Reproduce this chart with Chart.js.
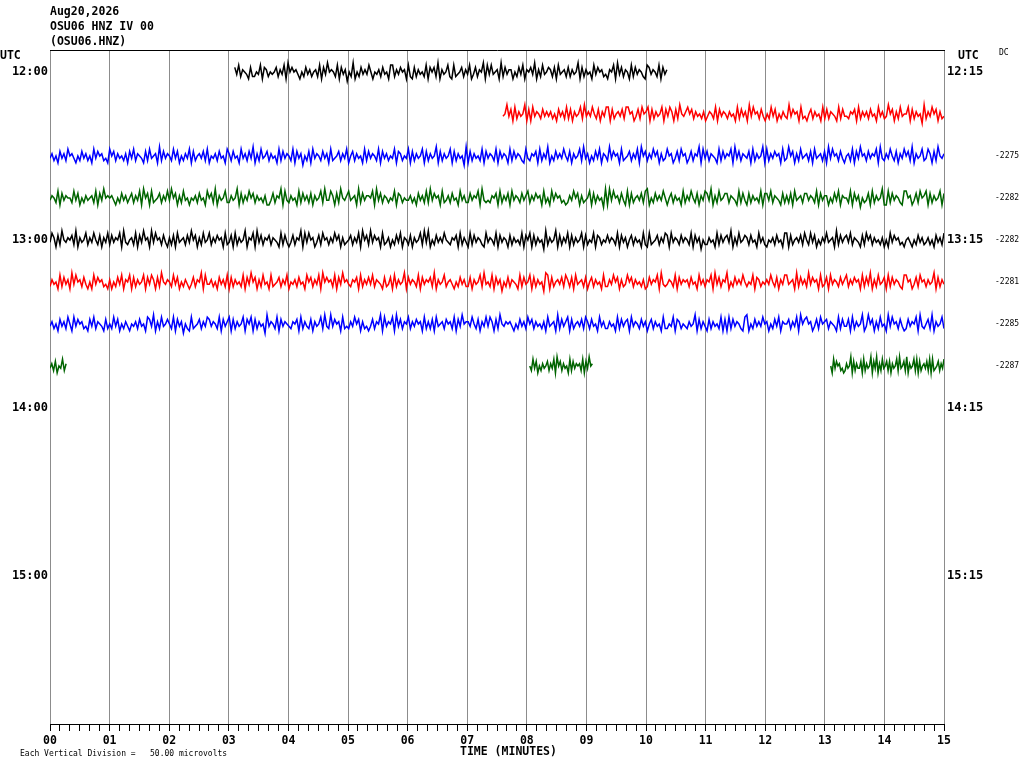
<!DOCTYPE html>
<html>
<head>
<meta charset="utf-8">
<title>OSU06 HNZ IV 00</title>
<script src="https://cdn.jsdelivr.net/npm/chart.js@4/dist/chart.umd.min.js"></script>
<style>
  html, body { margin: 0; padding: 0; background: #fff; }
  #wrap { width: 1024px; height: 768px; }
</style>
</head>
<body>
<div id="wrap"><canvas id="heli" width="1024" height="768"></canvas></div>
<script>
// header text
const headerLines = ["Aug20,2026", "OSU06 HNZ IV 00", "(OSU06.HNZ)"];

// axis labels
const minuteLabels = ["00", "01", "02", "03", "04", "05", "06", "07", "08", "09", "10", "11", "12", "13", "14", "15"];
const hourRows = [0, 4, 8, 12];
const leftHourLabels = ["12:00", "13:00", "14:00", "15:00"];
const rightHourLabels = ["12:15", "13:15", "14:15", "15:15"];
const dcRows = [2, 3, 4, 5, 6, 7];
const dcLabels = ["-2275", "-2282", "-2282", "-2281", "-2285", "-2287"];

// traces: row index (15 min per row), start/end minute, samples as digits (5 = baseline)
const traceRows = [0, 1, 2, 3, 4, 5, 6, 7, 7, 7];
const traceStart = [3.1, 7.6, 0, 0, 0, 0, 0, 0, 8.05, 13.1];
const traceEnd = [10.35, 15, 15, 15, 15, 15, 15, 0.27, 9.1, 15];
const traceDigits = [
  "7483654273 3548276354 5736482957 5642537463 5638274956 5382746153 9253746485 2546374528 8364756283 2736453827 5739264583 " +
  "2834573648 2473659284 8456293746 6253748265 7492638457 6372845637 3645927364 5284756342 6582947365 2837465328 7465382746",
  "459 4728364592 7284653746 4635274638 3726458394 6485372648 8273564738 8562473856 8273645827 4862739546 8573645362 4653827465 " +
  "3645283746 2948563742 5384725364 3947562834 2573645283 7365428374 4365728364 6374528463 4957263845 5827364519 3648572634",
  "4635274638 5642537463 5284756342 8573645362 7483654273 8456293746 5384725364 8273564738 2546374528 6374528463 7492638457 " +
  "3645283746 5382746153 7284653746 2834573648 2573645283 7465382746 3548276354 8273645827 3645927364 5827364519 2736453827 " +
  "4653827465 2837465328 4365728364 9253746485 3726458394 6253748265 3947562834 5736482957 3648572634 8562473856 2473659284 " +
  "7365428374 6582947365 4728364592 8364756283 4957263845 6372845637 2948563742 5638274956 3746582943 6485372648 5739264583 4862739546",
  "4653827465 5384725364 5638274956 5642537463 5736482957 2834573648 4957263845 2546374528 5739264583 3645927364 8573645362 " +
  "2473659284 3645283746 3726458394 4862739546 8456293746 6582947365 3548276354 4635274638 3947562834 6374528463 3746582943 " +
  "4365728364 7284653746 8364756283 5284756342 3648572634 5827364519 2948563742 8273564738 9253746485 2573645283 6485372648 " +
  "7492638457 7365428374 2736453827 7483654273 6372845637 7465382746 6253748265 5382746153 4728364592 2837465328 8562473856 8273645827",
  "4862739546 5739264583 6485372648 3746582943 5638274956 2948563742 6372845637 4957263845 8364756283 4728364592 6582947365 " +
  "7365428374 2473659284 8562473856 3648572634 5736482957 3947562834 6253748265 3726458394 9253746485 4365728364 2837465328 " +
  "4653827465 2736453827 5827364519 3645927364 8273645827 3548276354 7465382746 2573645283 2834573648 7284653746 5382746153 " +
  "3645283746 7492638457 6374528463 2546374528 8273564738 5384725364 8456293746 7483654273 8573645362 5284756342 5642537463 4635274638",
  "3645283746 2948563742 5284756342 6253748265 8273645827 4862739546 5384725364 2473659284 4635274638 2736453827 4957263845 " +
  "2834573648 2546374528 5736482957 5638274956 4365728364 7483654273 4728364592 7465382746 5739264583 5642537463 3726458394 " +
  "5382746153 7365428374 5827364519 8273564738 6372845637 2573645283 3648572634 8573645362 3746582943 4653827465 6374528463 " +
  "6582947365 9253746485 3548276354 6485372648 8456293746 3947562834 7284653746 8364756283 7492638457 2837465328 8562473856 3645927364",
  "4635274638 5284756342 7483654273 5384725364 2546374528 7492638457 5382746153 2834573648 7465382746 8273645827 5827364519 " +
  "4653827465 4365728364 3726458394 3947562834 3648572634 2473659284 6582947365 8364756283 6372845637 5638274956 6485372648 " +
  "4862739546 5642537463 8573645362 8456293746 8273564738 6374528463 3645283746 7284653746 2573645283 3548276354 3645927364 " +
  "2736453827 2837465328 9253746485 6253748265 5736482957 8562473856 7365428374 4728364592 4957263845 2948563742 3746582943 5739264583",
  "4637254836",
  "5384725364 5736482957 3645283746 5638274956",
  "5284756342 3645927364 4728364592 7492638457 3726458394 5739264583 8273564738 2834573648"
];
const traceColors = ["#000000", "#ff0000", "#0000ff", "#006400", "#000000", "#ff0000", "#0000ff", "#006400", "#006400", "#006400"];

const ROW_PX = 42;
const DIGIT_STEP = 2.3 / ROW_PX;

const datasets = traceDigits.map((raw, i) => {
  const str = raw.replace(/\s/g, "");
  const n = str.length;
  const pts = [];
  for (let j = 0; j < n; j++) {
    const t = traceStart[i] + (traceEnd[i] - traceStart[i]) * j / (n - 1);
    pts.push({ x: t, y: traceRows[i] + (5 - Number(str[j])) * DIGIT_STEP });
  }
  return {
    data: pts,
    borderColor: traceColors[i],
    borderWidth: 1.5,
    pointRadius: 0,
    tension: 0,
    fill: false,
    xAxisID: "x",
    yAxisID: "y"
  };
});

const MONO = "'DejaVu Sans Mono', 'Liberation Mono', monospace";
const yMin = -22 / ROW_PX;
const yMax = 652 / ROW_PX;

const textPlugin = {
  id: "heliText",
  afterDraw(chart) {
    const c = chart.ctx;
    c.save();
    c.fillStyle = "#000";
    c.textBaseline = "middle";
    c.textAlign = "left";
    c.font = "bold 11.5px " + MONO;
    headerLines.forEach((t, i) => c.fillText(t, 50, 12 + i * 15));
    c.fillText("UTC", 0, 56);
    c.fillText("UTC", 958, 56);
    c.fillText("TIME (MINUTES)", 460, 752);
    c.font = "8px " + MONO;
    c.fillText("DC", 999, 53);
    c.fillText("Each Vertical Division =   50.00 microvolts", 20, 754);
    c.restore();
  }
};

new Chart(document.getElementById("heli"), {
  type: "line",
  data: { datasets: datasets },
  plugins: [textPlugin],
  options: {
    responsive: false,
    animation: false,
    devicePixelRatio: 1,
    parsing: false,
    layout: { padding: { top: 50, left: 0, right: 0, bottom: 0 } },
    plugins: {
      legend: { display: false },
      tooltip: { enabled: false },
      title: { display: false }
    },
    scales: {
      x: {
        type: "linear",
        position: "bottom",
        min: 0,
        max: 15,
        afterBuildTicks: s => {
          s.ticks = [];
          for (let k = 0; k <= 90; k++) s.ticks.push({ value: k / 6 });
        },
        afterFit: s => { s.height = 44; },
        grid: {
          color: c => (c.index % 6 === 0 ? "#8c8c8c" : "rgba(0,0,0,0)"),
          tickColor: "#000",
          tickLength: 7,
          lineWidth: 1
        },
        border: { color: "#000" },
        ticks: {
          autoSkip: false,
          maxRotation: 0,
          padding: 3,
          color: "#000",
          font: { family: MONO, size: 11.5, weight: "bold" },
          callback: (v, i) => (i % 6 === 0 ? minuteLabels[i / 6] : "")
        }
      },
      xTop: {
        type: "linear",
        position: "top",
        min: 0,
        max: 15,
        afterFit: s => { s.height = 0; },
        grid: { drawOnChartArea: false, drawTicks: false },
        border: { color: "#000" },
        ticks: { display: false }
      },
      y: {
        type: "linear",
        position: "left",
        reverse: true,
        min: yMin,
        max: yMax,
        afterBuildTicks: s => { s.ticks = hourRows.map(v => ({ value: v })); },
        afterFit: s => { s.width = 50; },
        grid: { display: false, drawTicks: false },
        border: { display: false },
        ticks: {
          padding: 2,
          color: "#000",
          font: { family: MONO, size: 12, weight: "bold" },
          callback: (v, i) => leftHourLabels[i]
        }
      },
      yRight: {
        type: "linear",
        position: "right",
        weight: 1,
        reverse: true,
        min: yMin,
        max: yMax,
        afterBuildTicks: s => { s.ticks = hourRows.map(v => ({ value: v })); },
        afterFit: s => { s.width = 50; },
        grid: { display: false, drawTicks: false },
        border: { display: false },
        ticks: {
          padding: 3,
          color: "#000",
          font: { family: MONO, size: 12, weight: "bold" },
          callback: (v, i) => rightHourLabels[i]
        }
      },
      yDc: {
        type: "linear",
        position: "right",
        weight: 2,
        reverse: true,
        min: yMin,
        max: yMax,
        afterBuildTicks: s => { s.ticks = dcRows.map(v => ({ value: v })); },
        afterFit: s => { s.width = 30; },
        grid: { display: false, drawTicks: false },
        border: { display: false },
        ticks: {
          padding: 1,
          color: "#000",
          font: { family: MONO, size: 8 },
          callback: (v, i) => dcLabels[i]
        }
      }
    }
  }
});
</script>
</body>
</html>
